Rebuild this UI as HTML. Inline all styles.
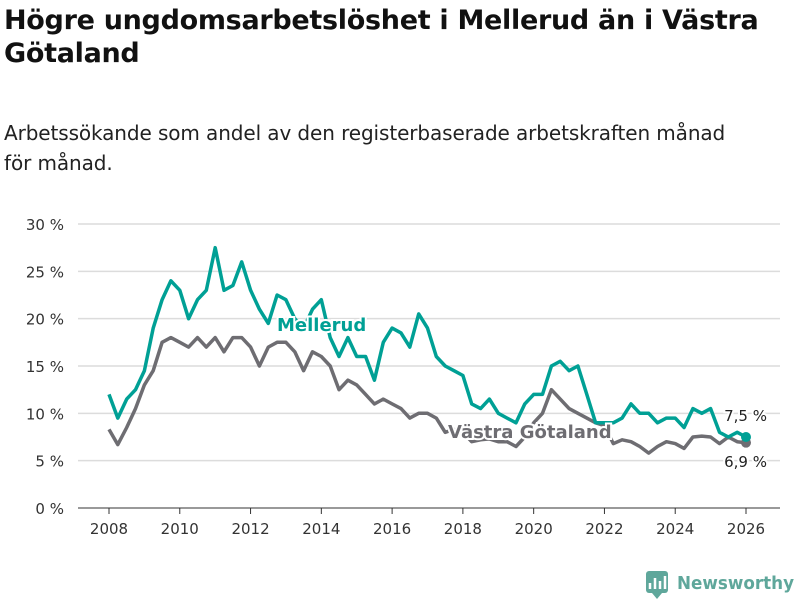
<!DOCTYPE html>
<html><head><meta charset="utf-8">
<style>
body{margin:0;background:#fff;font-family:"Liberation Sans","DejaVu Sans",sans-serif;}
#wrap{position:relative;width:800px;height:600px;overflow:hidden;}
h1{position:absolute;left:4px;top:4px;margin:0;font-size:27px;line-height:33px;font-weight:bold;color:#111;width:790px;font-family:"DejaVu Sans",sans-serif;letter-spacing:-0.3px}
p{position:absolute;left:4px;top:118px;margin:0;font-size:20px;line-height:30px;color:#222;width:730px;font-family:"DejaVu Sans",sans-serif;letter-spacing:-0.1px}
svg text{font-family:"DejaVu Sans",sans-serif;}
</style></head><body>
<div id="wrap">
<h1>Högre ungdomsarbetslöshet i Mellerud än i Västra Götaland</h1>
<p>Arbetssökande som andel av den registerbaserade arbetskraften månad för månad.</p>
<svg id="chart" width="800" height="600" style="position:absolute;left:0;top:0"></svg>
</div>
<script>
const startYear = 2008, stepYear = 0.25;
const yTicks = [0,5,10,15,20,25,30];
const xTicks = [2008,2010,2012,2014,2016,2018,2020,2022,2024,2026];
const mellerud = [12,9.5,11.5,12.5,14.5,19,22,24,23,20,22,23,27.5,23,23.5,26,23,21,19.5,22.5,22,20,19,21,22,18,16,18,16,16,13.5,17.5,19,18.5,17,20.5,19,16,15,14.5,14,11,10.5,11.5,10,9.5,9,11,12,12,15,15.5,14.5,15,12,9,9,9,9.5,11,10,10,9,9.5,9.5,8.5,10.5,10,10.5,8,7.5,8,7.5];
const vastra = [8.3,6.7,8.5,10.5,13,14.5,17.5,18,17.5,17,18,17,18,16.5,18,18,17,15,17,17.5,17.5,16.5,14.5,16.5,16,15,12.5,13.5,13,12,11,11.5,11,10.5,9.5,10,10,9.5,8,8.3,8,7,7.2,7.3,7,7,6.5,7.5,9,10,12.5,11.5,10.5,10,9.5,9,8.7,6.8,7.2,7,6.5,5.8,6.5,7,6.8,6.3,7.5,7.6,7.5,6.8,7.5,7,6.9];
const svg = document.getElementById('chart');
const NS='http://www.w3.org/2000/svg';
const xS = y => 109 + (y-2008)*(746-109)/18;
const yS = v => 508 - v*(508-224)/30;
function mk(tag, attrs, parent){const e=document.createElementNS(NS,tag);for(const k in attrs)e.setAttribute(k,attrs[k]);(parent||svg).appendChild(e);return e;}
yTicks.forEach(t=>{
  const g=mk('line',{x1:78,x2:780,y1:yS(t),y2:yS(t),stroke:t===0?'#333':'#dcdcdc','stroke-width':t===0?1:1.5});
  
  
  const tx=mk('text',{x:64,y:yS(t)+6,'text-anchor':'end','font-size':15,fill:'#333'});
  tx.textContent=t+' %';
  
  
});
xTicks.forEach(t=>{
  const l=mk('line',{x1:xS(t),x2:xS(t),y1:508,y2:514,stroke:'#333'});
  
  
  const tx=mk('text',{x:xS(t),y:534,'text-anchor':'middle','font-size':15,fill:'#333'});
  tx.textContent=t;
  
  
});
function series(vals,color,name){
  const d=vals.map((v,i)=>(i?'L':'M')+xS(startYear+i*stepYear).toFixed(1)+','+yS(v).toFixed(1)).join('');
  const p=mk('path',{d:d,fill:'none',stroke:color,'stroke-width':3.5,'stroke-linejoin':'round'});
  
  
  const last=vals.length-1;
  const c=mk('circle',{cx:xS(startYear+last*stepYear),cy:yS(vals[last]),r:5,fill:color});
  
  
}
series(vastra,'#6e6d72','vastra-gotaland');
series(mellerud,'#00a095','mellerud');
function label(x,y,txt,color,size,weight,name,anchor){
  const t=mk('text',{x:x,y:y,'font-size':size,'font-weight':weight,fill:color,stroke:'#fff','stroke-width':4,'paint-order':'stroke','text-anchor':anchor||'start'});
  t.textContent=txt;
  
  
}
label(277,331,'Mellerud','#00a095',18,'bold','mellerud-label');
label(448,438,'Västra Götaland','#6e6d72',18,'bold','vastra-gotaland-label');
label(767,421,'7,5 %','#222',15,'normal','mellerud-last-value','end');
label(767,467,'6,9 %','#222',15,'normal','vastra-last-value','end');
// logo
const lg=mk('g',{});


mk('rect',{x:646,y:571,width:22,height:22,rx:3,fill:'#5fa79b'},lg);
mk('path',{d:'M650,589 L650,583 M655,589 L655,578 M660,589 L660,581 M665,589 L665,576',stroke:'#fff','stroke-width':2.5},lg);
mk('path',{d:'M652,593 L657,599 L662,593 Z',fill:'#5fa79b'},lg);
const lt=mk('text',{x:677,y:589,'font-size':18,'font-weight':'bold',fill:'#5fa79b',textLength:117,lengthAdjust:'spacingAndGlyphs'},lg);
lt.textContent='Newsworthy';
</script>
</body></html>
